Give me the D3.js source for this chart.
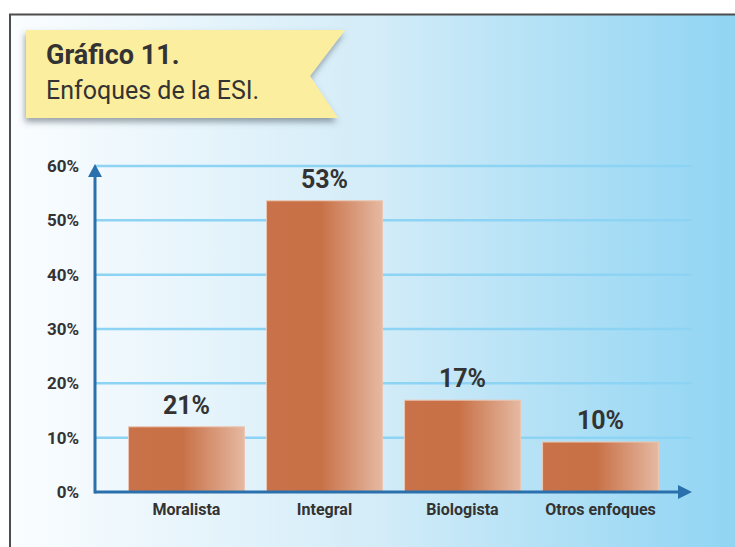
<!DOCTYPE html>
<html>
<head>
<meta charset="utf-8">
<script src="https://cdn.jsdelivr.net/npm/d3@7"></script>
<style>
    body { margin: 0; background: #fff; }
    svg { display: block; font-family: Roboto, "Noto Sans", sans-serif; }
</style>
</head>
<body>
<svg id="chart" width="735" height="547"></svg>
<script>

// data
const categories = ['Moralista', 'Integral', 'Biologista', 'Otros enfoques'];
const barValues = [12.0, 53.6, 16.9, 9.2];          // drawn bar heights (%)
const valueLabels = ['21%', '53%', '17%', '10%'];   // printed on top of bars
const yTicks = [0, 10, 20, 30, 40, 50, 60];

const titleBold = 'Gráfico 11.';
const titleSub = 'Enfoques de la ESI.';

const svg = d3.select('#chart');
const defs = svg.append('defs');

// background gradient
const bg = defs.append('linearGradient')
    .attr('id', 'bg-grad')
    .attr('x1', 0).attr('x2', 1).attr('y1', 0).attr('y2', 0);
bg.append('stop').attr('offset', 0).attr('stop-color', '#fbfdff');
bg.append('stop').attr('offset', 0.5).attr('stop-color', '#d3ecf8');
bg.append('stop').attr('offset', 1).attr('stop-color', '#8ed4f3');

// bar gradient
const barGrad = defs.append('linearGradient')
    .attr('id', 'bar-grad')
    .attr('x1', 0).attr('x2', 1).attr('y1', 0).attr('y2', 0);
barGrad.append('stop').attr('offset', 0).attr('stop-color', '#c97249');
barGrad.append('stop').attr('offset', 0.46).attr('stop-color', '#c87046');
barGrad.append('stop').attr('offset', 1).attr('stop-color', '#e5b9a2');

// title shadow
const shadow = defs.append('filter')
    .attr('id', 'shadow')
    .attr('x', '-10%').attr('y', '-10%')
    .attr('width', '130%').attr('height', '140%');
shadow.append('feDropShadow')
    .attr('dx', -1).attr('dy', 4)
    .attr('stdDeviation', 3)
    .attr('flood-color', '#4a5560')
    .attr('flood-opacity', 0.55);

// frame + background
svg.append('rect')
    .attr('x', 10).attr('y', 15)
    .attr('width', 735).attr('height', 540)
    .attr('fill', 'url(#bg-grad)');
svg.append('path')
    .attr('d', 'M10,560 V14.5 H740')
    .attr('fill', 'none')
    .attr('stroke', '#4d4d4d')
    .attr('stroke-width', 2);

// title ribbon
svg.append('path')
    .attr('d', 'M26,30 H345 L310,76 L338,118 H26 Z')
    .attr('fill', '#fcee9f')
    .attr('filter', 'url(#shadow)');

svg.append('text')
    .attr('x', 46).attr('y', 64)
    .attr('fill', '#333')
    .style('font-size', '27px')
    .style('font-weight', 'bold')
    .text(titleBold);

svg.append('text')
    .attr('x', 46).attr('y', 99)
    .attr('fill', '#333')
    .style('font-size', '25px')
    .text(titleSub);

// scales
const x0 = 95, x1 = 692;
const x = d3.scaleBand()
    .domain(categories)
    .range([x0, x1])
    .paddingInner(0.16)
    .paddingOuter(0.243);

const y = d3.scaleLinear()
    .domain([0, 60])
    .range([492, 166]);

// gridlines
svg.append('g')
    .selectAll('line')
    .data(yTicks.filter(d => d > 0))
    .join('line')
    .attr('x1', x0).attr('x2', x1)
    .attr('y1', d => y(d)).attr('y2', d => y(d))
    .attr('stroke', '#8dd3f3')
    .attr('stroke-width', 2.5);

// y axis via d3.axisLeft, restyled
const yAxis = svg.append('g')
    .attr('transform', `translate(${x0 - 10},0)`)
    .call(d3.axisLeft(y).tickValues(yTicks).tickSize(0).tickPadding(6).tickFormat(d => d + '%'));
yAxis.select('.domain').remove();
yAxis.selectAll('text')
    .attr('fill', '#333')
    .style('font-family', 'Roboto, sans-serif')
    .style('font-size', '17px')
    .style('font-weight', 'bold');

// bars
svg.append('g')
    .selectAll('rect')
    .data(categories)
    .join('rect')
    .attr('x', d => x(d))
    .attr('y', (d, i) => y(barValues[i]))
    .attr('width', x.bandwidth())
    .attr('height', (d, i) => y(0) - y(barValues[i]))
    .attr('fill', 'url(#bar-grad)')
    .attr('stroke', '#ecc6b2')
    .attr('stroke-width', 1);

// value labels
svg.append('g')
    .selectAll('text')
    .data(categories)
    .join('text')
    .attr('x', d => x(d) + x.bandwidth() / 2)
    .attr('y', (d, i) => y(barValues[i]) - 13)
    .attr('text-anchor', 'middle')
    .attr('fill', '#333')
    .style('font-size', '25px')
    .style('font-weight', 'bold')
    .text((d, i) => valueLabels[i]);

// category labels
const xAxis = svg.append('g')
    .attr('transform', `translate(0,${y(0)})`)
    .call(d3.axisBottom(x).tickSize(0).tickPadding(12));
xAxis.select('.domain').remove();
xAxis.selectAll('text')
    .attr('fill', '#333')
    .style('font-family', 'Roboto, sans-serif')
    .style('font-size', '16px')
    .style('font-weight', 'bold');

// axis arrows
const axisColor = '#2a70ad';
svg.append('line')
    .attr('x1', x0).attr('x2', x1 - 10)
    .attr('y1', y(0)).attr('y2', y(0))
    .attr('stroke', axisColor).attr('stroke-width', 3);
svg.append('line')
    .attr('x1', x0).attr('x2', x0)
    .attr('y1', y(0) + 1.5).attr('y2', y(60) + 8)
    .attr('stroke', axisColor).attr('stroke-width', 3);
svg.append('path')
    .attr('d', `M${x1},${y(0)} l-14,-7 v14 Z`)
    .attr('fill', axisColor);
svg.append('path')
    .attr('d', `M${x0},${y(60) - 2} l-7,13 h14 Z`)
    .attr('fill', axisColor);

</script>
</body>
</html>
